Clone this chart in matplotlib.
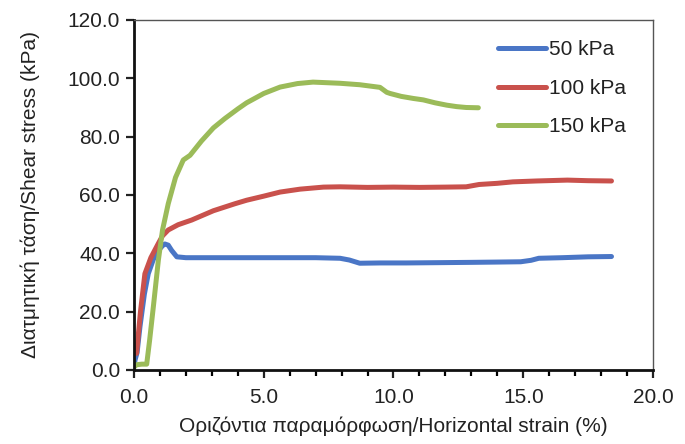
import matplotlib
matplotlib.use("Agg")
import matplotlib.pyplot as plt
from matplotlib.ticker import MultipleLocator, FormatStrFormatter

plt.rcParams['font.family'] = ['Liberation Sans', 'DejaVu Sans']

# Direct shear test: shear stress vs horizontal strain for three normal stresses
strain_50 = [0.0, 0.04, 0.12, 0.23, 0.4, 0.55, 0.75, 0.94, 1.1, 1.19, 1.32, 1.45,
             1.65, 2.0, 3.0, 4.0, 5.0, 6.0, 7.0, 7.94, 8.3, 8.7, 9.5, 10.5,
             11.8, 13.0, 14.0, 14.9, 15.3, 15.6, 16.5, 17.5, 18.4]
stress_50 = [1.0, 3.4, 6.0, 14.8, 26.0, 33.0, 38.0, 41.0, 42.6, 43.2, 42.8, 41.0,
             38.8, 38.5, 38.5, 38.5, 38.5, 38.5, 38.5, 38.3, 37.7, 36.6, 36.7, 36.7,
             36.8, 36.9, 37.0, 37.1, 37.6, 38.3, 38.5, 38.8, 38.9]

strain_100 = [0.0, 0.1, 0.25, 0.42, 0.65, 0.94, 1.1, 1.32, 1.7, 2.22, 3.06, 3.89,
              4.34, 5.0, 5.63, 6.4, 7.3, 7.94, 9.0, 10.0, 11.0, 12.0, 12.8,
              13.3, 14.0, 14.6, 15.5, 16.7, 17.5, 18.4]
stress_100 = [8.0, 5.7, 20.0, 33.0, 38.5, 43.4, 46.0, 48.0, 49.8, 51.4, 54.6, 57.0,
              58.2, 59.6, 61.0, 62.0, 62.7, 62.8, 62.6, 62.7, 62.6, 62.7, 62.8,
              63.6, 64.0, 64.5, 64.8, 65.1, 64.9, 64.8]

strain_150 = [0.0, 0.1, 0.3, 0.49, 0.6, 0.75, 0.94, 1.1, 1.32, 1.6, 1.9, 2.16,
              2.6, 3.06, 3.5, 4.0, 4.34, 5.0, 5.63, 6.3, 6.9, 7.94, 8.7, 9.48,
              9.74, 9.87, 10.3, 10.76, 11.15, 11.6, 12.05, 12.43, 12.8, 13.27]
stress_150 = [1.0, 1.8, 2.0, 2.0, 10.0, 22.0, 37.7, 48.0, 57.0, 66.0, 72.0, 73.6,
              78.5, 83.0, 86.2, 89.5, 91.6, 94.8, 97.0, 98.2, 98.7, 98.3, 97.8, 96.9,
              95.2, 94.8, 93.8, 93.1, 92.6, 91.6, 90.8, 90.3, 90.0, 89.9]

series = [
    ("50 kPa", strain_50, stress_50, "#4a76c6"),
    ("100 kPa", strain_100, stress_100, "#c9514c"),
    ("150 kPa", strain_150, stress_150, "#9bbb59"),
]

x_label = "Οριζόντια παραμόρφωση/Horizontal strain (%)"
y_label = "Διατμητική τάση/Shear stress (kPa)"

FS = 15

fig = plt.figure(figsize=(6.85, 4.44), dpi=100)
ax = fig.add_axes([0.1956, 0.1667, 0.7577, 0.7883])

for name, xs, ys, col in series:
    ax.plot(xs, ys, color=col, lw=3.6, label=name, solid_capstyle='round')

ax.set_xlim(0, 20)
ax.set_ylim(0, 120)
ax.xaxis.set_major_locator(MultipleLocator(5))
ax.xaxis.set_minor_locator(MultipleLocator(1))
ax.yaxis.set_major_locator(MultipleLocator(20))
ax.xaxis.set_major_formatter(FormatStrFormatter('%.1f'))
ax.yaxis.set_major_formatter(FormatStrFormatter('%.1f'))

ax.tick_params(axis='both', which='major', direction='out', length=6, width=1.6,
               labelsize=FS, colors='#222222', pad=4)
ax.tick_params(axis='x', which='minor', direction='out', length=4, width=1.6)
ax.tick_params(axis='x', which='major', pad=7)

for side in ('left', 'bottom'):
    ax.spines[side].set_linewidth(2.0)
    ax.spines[side].set_color('#111111')
for side in ('top', 'right'):
    ax.spines[side].set_linewidth(1.0)
    ax.spines[side].set_color('#555555')

ax.set_xlabel(x_label, fontsize=FS, color='#222222', labelpad=7)
ax.set_ylabel(y_label, fontsize=FS, color='#222222', labelpad=20)

leg = ax.legend(loc='upper right', bbox_to_anchor=(0.985, 0.995), frameon=False,
                fontsize=FS, handlelength=2.3, handletextpad=0.15,
                labelspacing=0.93)
for t in leg.get_texts():
    t.set_color('#222222')

fig.savefig("out.png", dpi=100)
